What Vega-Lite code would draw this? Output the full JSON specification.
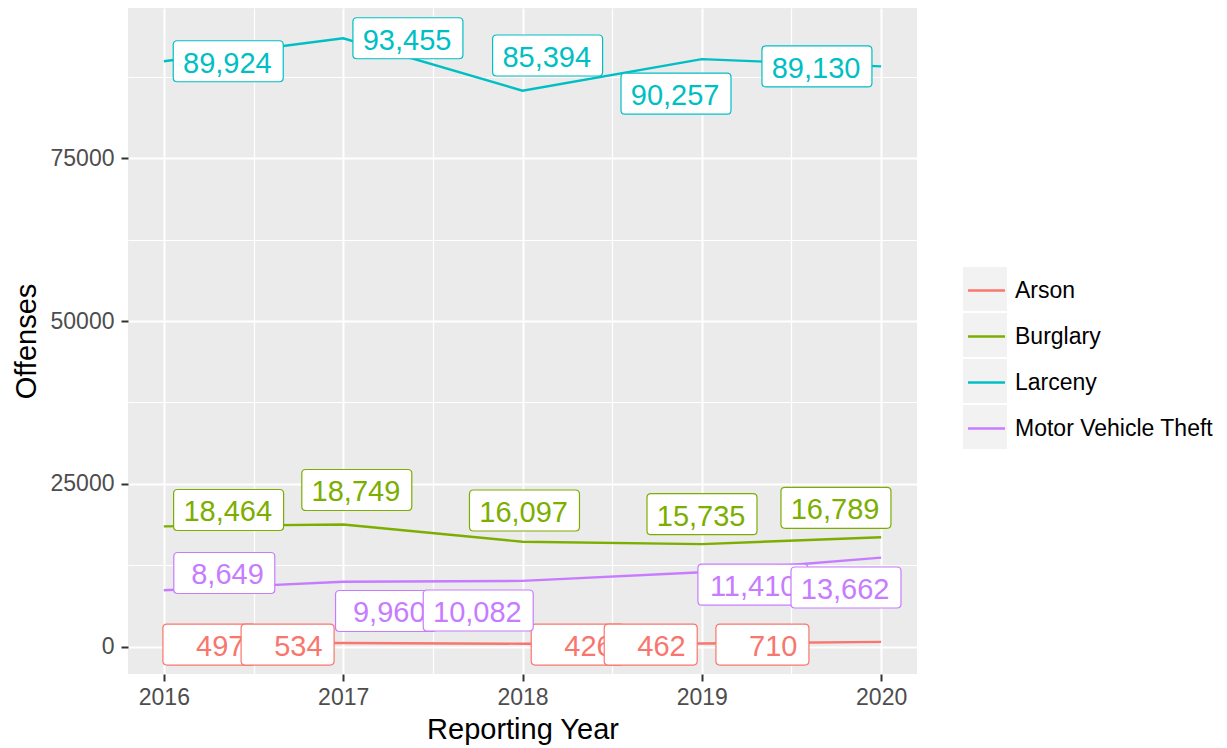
{
  "$schema": "https://vega.github.io/schema/vega-lite/v6.json",
  "width": 789,
  "height": 666,
  "autosize": {"type": "none"},
  "padding": {"left": 128, "top": 8, "right": 310, "bottom": 74},
  "background": "white",
  "config": {
    "font": "Liberation Sans",
    "view": {"fill": "#EBEBEB", "stroke": null},
    "axis": {
      "domain": false,
      "gridColor": "white",
      "tickColor": "#333333",
      "tickSize": 7,
      "tickWidth": 2,
      "labelFont": "Liberation Sans",
      "labelFontSize": 23,
      "labelColor": "#4D4D4D",
      "titleFont": "Liberation Sans",
      "titleFontSize": 29,
      "titleFontWeight": "normal",
      "titleColor": "black"
    }
  },
  "data": {
    "values": [
      {"crime": "Arson", "year": 2016, "value": 497, "labelYear": 2016.254, "labelValue": 300},
      {"crime": "Arson", "year": 2017, "value": 534, "labelYear": 2016.690, "labelValue": 300},
      {"crime": "Arson", "year": 2018, "value": 426, "labelYear": 2018.308, "labelValue": 300},
      {"crime": "Arson", "year": 2019, "value": 462, "labelYear": 2018.715, "labelValue": 300},
      {"crime": "Arson", "year": 2020, "value": 710, "labelYear": 2019.338, "labelValue": 300},
      {"crime": "Burglary", "year": 2016, "value": 18464, "labelYear": 2016.361, "labelValue": 20974},
      {"crime": "Burglary", "year": 2017, "value": 18749, "labelYear": 2017.076, "labelValue": 24047},
      {"crime": "Burglary", "year": 2018, "value": 16097, "labelYear": 2018.011, "labelValue": 20897},
      {"crime": "Burglary", "year": 2019, "value": 15735, "labelYear": 2019.001, "labelValue": 20329},
      {"crime": "Burglary", "year": 2020, "value": 16789, "labelYear": 2019.748, "labelValue": 21312},
      {"crime": "Larceny", "year": 2016, "value": 89924, "labelYear": 2016.359, "labelValue": 89924},
      {"crime": "Larceny", "year": 2017, "value": 93455, "labelYear": 2017.361, "labelValue": 93455},
      {"crime": "Larceny", "year": 2018, "value": 85394, "labelYear": 2018.140, "labelValue": 90811},
      {"crime": "Larceny", "year": 2019, "value": 90257, "labelYear": 2018.856, "labelValue": 84941},
      {"crime": "Larceny", "year": 2020, "value": 89130, "labelYear": 2019.642, "labelValue": 89130},
      {"crime": "Motor Vehicle Theft", "year": 2016, "value": 8649, "labelYear": 2016.337, "labelValue": 11294},
      {"crime": "Motor Vehicle Theft", "year": 2017, "value": 9960, "labelYear": 2017.239, "labelValue": 5455},
      {"crime": "Motor Vehicle Theft", "year": 2018, "value": 10082, "labelYear": 2017.753, "labelValue": 5532},
      {"crime": "Motor Vehicle Theft", "year": 2019, "value": 11410, "labelYear": 2019.285, "labelValue": 9496},
      {"crime": "Motor Vehicle Theft", "year": 2020, "value": 13662, "labelYear": 2019.804, "labelValue": 9066}
    ]
  },
  "transform": [
    {"calculate": "format(datum.value, ',')", "as": "label"},
    {"calculate": "datum.value >= 10000 ? 'A' : datum.value >= 1000 ? 'B' : 'C'", "as": "boxType"},
    {"calculate": "datum.crime", "as": "key"}
  ],
  "resolve": {"axis": {"x": "independent", "y": "independent"}},
  "layer": [
    {
      "mark": {"type": "point", "filled": true, "opacity": 0, "size": 4},
      "encoding": {
        "x": {
          "field": "year", "type": "quantitative",
          "scale": {"domain": [2015.8, 2020.2], "nice": false, "zero": false},
          "axis": {"orient": "bottom", "title": null, "values": [2016.5, 2017.5, 2018.5, 2019.5], "labels": false, "ticks": false, "grid": true, "gridWidth": 1.2}
        },
        "y": {
          "field": "value", "type": "quantitative",
          "scale": {"domain": [-4225, 98106], "nice": false, "zero": false},
          "axis": {"orient": "left", "title": null, "values": [12500, 37500, 62500, 87500], "labels": false, "ticks": false, "grid": true, "gridWidth": 1.2}
        },
        "color": {
          "field": "key", "type": "nominal",
          "scale": {"range": ["#F2F2F2", "#F2F2F2", "#F2F2F2", "#F2F2F2"]},
          "legend": {
            "title": null,
            "orient": "none",
            "legendX": 835,
            "legendY": 259,
            "symbolType": "M-1,-1H1V1H-1Z",
            "symbolSize": 1936,
            "symbolStrokeWidth": 0,
            "labelExpr": "''",
            "labelFontSize": 23,
            "labelOffset": 0,
            "rowPadding": 2,
            "encode": {"symbols": {"update": {"opacity": {"value": 1}, "fill": {"value": "#F2F2F2"}}}}
          }
        }
      }
    },
    {
      "mark": {"type": "line", "strokeWidth": 2.4},
      "encoding": {
        "x": {
          "field": "year", "type": "quantitative",
          "axis": {"orient": "bottom", "title": "Reporting Year", "values": [2016, 2017, 2018, 2019, 2020], "format": "d", "grid": true, "gridWidth": 2, "labelPadding": 5, "titlePadding": 6}
        },
        "y": {
          "field": "value", "type": "quantitative",
          "axis": {"orient": "left", "title": "Offenses", "values": [0, 25000, 50000, 75000], "format": "d", "grid": true, "gridWidth": 2, "labelPadding": 7, "titlePadding": 9}
        },
        "stroke": {
          "field": "crime", "type": "nominal",
          "scale": {"domain": ["Arson", "Burglary", "Larceny", "Motor Vehicle Theft"], "range": ["#F8766D", "#7CAE00", "#00BFC4", "#C77CFF"]},
          "legend": {
            "title": null,
            "orient": "none",
            "legendX": 835,
            "legendY": 259,
            "symbolType": "M-0.841,0L0.841,0",
            "symbolSize": 1936,
            "symbolStrokeWidth": 2.4,
            "labelFont": "Liberation Sans",
            "labelFontSize": 23,
            "labelColor": "black",
            "labelOffset": 5,
            "labelLimit": 400,
            "rowPadding": 10
          }
        }
      }
    },
    {
      "transform": [{"filter": "datum.year == 2016"}],
      "mark": {"type": "point", "filled": false, "fill": "white", "fillOpacity": 1, "opacity": 1, "size": 4, "strokeWidth": 1.2},
      "encoding": {
        "x": {"field": "labelYear", "type": "quantitative", "axis": null},
        "y": {"field": "labelValue", "type": "quantitative", "axis": null},
        "stroke": {"field": "crime", "type": "nominal", "legend": null},
        "shape": {"field": "boxType", "type": "nominal", "legend": null, "scale": {"domain": ["A", "B", "C"], "range": ["M-51,-20.5H51Q55,-20.5 55,-16.5V16.5Q55,20.5 51,20.5H-51Q-55,20.5 -55,16.5V-16.5Q-55,-20.5 -51,-20.5Z", "M-46.5,-20.5H46.5Q50.5,-20.5 50.5,-16.5V16.5Q50.5,20.5 46.5,20.5H-46.5Q-50.5,20.5 -50.5,16.5V-16.5Q-50.5,-20.5 -46.5,-20.5Z", "M-42.5,-20.5H42.5Q46.5,-20.5 46.5,-16.5V16.5Q46.5,20.5 42.5,20.5H-42.5Q-46.5,20.5 -46.5,16.5V-16.5Q-46.5,-20.5 -42.5,-20.5Z"]}}
      }
    },
    {
      "transform": [{"filter": "datum.year == 2016"}],
      "mark": {"type": "text", "font": "Liberation Sans", "fontSize": 29, "baseline": "alphabetic", "align": "right", "dy": 11.5, "dx": {"expr": "datum.value >= 10000 ? 43.5 : datum.value >= 1000 ? 39.5 : 35"}},
      "encoding": {
        "x": {"field": "labelYear", "type": "quantitative", "axis": null},
        "y": {"field": "labelValue", "type": "quantitative", "axis": null},
        "fill": {"field": "crime", "type": "nominal", "legend": null, "scale": {"domain": ["Arson", "Burglary", "Larceny", "Motor Vehicle Theft"], "range": ["#F8766D", "#7CAE00", "#00BFC4", "#C77CFF"]}},
        "text": {"field": "label", "type": "nominal"}
      }
    },
    {
      "transform": [{"filter": "datum.year == 2017"}],
      "mark": {"type": "point", "filled": false, "fill": "white", "fillOpacity": 1, "opacity": 1, "size": 4, "strokeWidth": 1.2},
      "encoding": {
        "x": {"field": "labelYear", "type": "quantitative", "axis": null},
        "y": {"field": "labelValue", "type": "quantitative", "axis": null},
        "stroke": {"field": "crime", "type": "nominal", "legend": null},
        "shape": {"field": "boxType", "type": "nominal", "legend": null, "scale": {"domain": ["A", "B", "C"], "range": ["M-51,-20.5H51Q55,-20.5 55,-16.5V16.5Q55,20.5 51,20.5H-51Q-55,20.5 -55,16.5V-16.5Q-55,-20.5 -51,-20.5Z", "M-46.5,-20.5H46.5Q50.5,-20.5 50.5,-16.5V16.5Q50.5,20.5 46.5,20.5H-46.5Q-50.5,20.5 -50.5,16.5V-16.5Q-50.5,-20.5 -46.5,-20.5Z", "M-42.5,-20.5H42.5Q46.5,-20.5 46.5,-16.5V16.5Q46.5,20.5 42.5,20.5H-42.5Q-46.5,20.5 -46.5,16.5V-16.5Q-46.5,-20.5 -42.5,-20.5Z"]}}
      }
    },
    {
      "transform": [{"filter": "datum.year == 2017"}],
      "mark": {"type": "text", "font": "Liberation Sans", "fontSize": 29, "baseline": "alphabetic", "align": "right", "dy": 11.5, "dx": {"expr": "datum.value >= 10000 ? 43.5 : datum.value >= 1000 ? 39.5 : 35"}},
      "encoding": {
        "x": {"field": "labelYear", "type": "quantitative", "axis": null},
        "y": {"field": "labelValue", "type": "quantitative", "axis": null},
        "fill": {"field": "crime", "type": "nominal", "legend": null},
        "text": {"field": "label", "type": "nominal"}
      }
    },
    {
      "transform": [{"filter": "datum.year == 2018"}],
      "mark": {"type": "point", "filled": false, "fill": "white", "fillOpacity": 1, "opacity": 1, "size": 4, "strokeWidth": 1.2},
      "encoding": {
        "x": {"field": "labelYear", "type": "quantitative", "axis": null},
        "y": {"field": "labelValue", "type": "quantitative", "axis": null},
        "stroke": {"field": "crime", "type": "nominal", "legend": null},
        "shape": {"field": "boxType", "type": "nominal", "legend": null, "scale": {"domain": ["A", "B", "C"], "range": ["M-51,-20.5H51Q55,-20.5 55,-16.5V16.5Q55,20.5 51,20.5H-51Q-55,20.5 -55,16.5V-16.5Q-55,-20.5 -51,-20.5Z", "M-46.5,-20.5H46.5Q50.5,-20.5 50.5,-16.5V16.5Q50.5,20.5 46.5,20.5H-46.5Q-50.5,20.5 -50.5,16.5V-16.5Q-50.5,-20.5 -46.5,-20.5Z", "M-42.5,-20.5H42.5Q46.5,-20.5 46.5,-16.5V16.5Q46.5,20.5 42.5,20.5H-42.5Q-46.5,20.5 -46.5,16.5V-16.5Q-46.5,-20.5 -42.5,-20.5Z"]}}
      }
    },
    {
      "transform": [{"filter": "datum.year == 2018"}],
      "mark": {"type": "text", "font": "Liberation Sans", "fontSize": 29, "baseline": "alphabetic", "align": "right", "dy": 11.5, "dx": {"expr": "datum.value >= 10000 ? 43.5 : datum.value >= 1000 ? 39.5 : 35"}},
      "encoding": {
        "x": {"field": "labelYear", "type": "quantitative", "axis": null},
        "y": {"field": "labelValue", "type": "quantitative", "axis": null},
        "fill": {"field": "crime", "type": "nominal", "legend": null},
        "text": {"field": "label", "type": "nominal"}
      }
    },
    {
      "transform": [{"filter": "datum.year == 2019"}],
      "mark": {"type": "point", "filled": false, "fill": "white", "fillOpacity": 1, "opacity": 1, "size": 4, "strokeWidth": 1.2},
      "encoding": {
        "x": {"field": "labelYear", "type": "quantitative", "axis": null},
        "y": {"field": "labelValue", "type": "quantitative", "axis": null},
        "stroke": {"field": "crime", "type": "nominal", "legend": null},
        "shape": {"field": "boxType", "type": "nominal", "legend": null, "scale": {"domain": ["A", "B", "C"], "range": ["M-51,-20.5H51Q55,-20.5 55,-16.5V16.5Q55,20.5 51,20.5H-51Q-55,20.5 -55,16.5V-16.5Q-55,-20.5 -51,-20.5Z", "M-46.5,-20.5H46.5Q50.5,-20.5 50.5,-16.5V16.5Q50.5,20.5 46.5,20.5H-46.5Q-50.5,20.5 -50.5,16.5V-16.5Q-50.5,-20.5 -46.5,-20.5Z", "M-42.5,-20.5H42.5Q46.5,-20.5 46.5,-16.5V16.5Q46.5,20.5 42.5,20.5H-42.5Q-46.5,20.5 -46.5,16.5V-16.5Q-46.5,-20.5 -42.5,-20.5Z"]}}
      }
    },
    {
      "transform": [{"filter": "datum.year == 2019"}],
      "mark": {"type": "text", "font": "Liberation Sans", "fontSize": 29, "baseline": "alphabetic", "align": "right", "dy": 11.5, "dx": {"expr": "datum.value >= 10000 ? 43.5 : datum.value >= 1000 ? 39.5 : 35"}},
      "encoding": {
        "x": {"field": "labelYear", "type": "quantitative", "axis": null},
        "y": {"field": "labelValue", "type": "quantitative", "axis": null},
        "fill": {"field": "crime", "type": "nominal", "legend": null},
        "text": {"field": "label", "type": "nominal"}
      }
    },
    {
      "transform": [{"filter": "datum.year == 2020"}],
      "mark": {"type": "point", "filled": false, "fill": "white", "fillOpacity": 1, "opacity": 1, "size": 4, "strokeWidth": 1.2},
      "encoding": {
        "x": {"field": "labelYear", "type": "quantitative", "axis": null},
        "y": {"field": "labelValue", "type": "quantitative", "axis": null},
        "stroke": {"field": "crime", "type": "nominal", "legend": null},
        "shape": {"field": "boxType", "type": "nominal", "legend": null, "scale": {"domain": ["A", "B", "C"], "range": ["M-51,-20.5H51Q55,-20.5 55,-16.5V16.5Q55,20.5 51,20.5H-51Q-55,20.5 -55,16.5V-16.5Q-55,-20.5 -51,-20.5Z", "M-46.5,-20.5H46.5Q50.5,-20.5 50.5,-16.5V16.5Q50.5,20.5 46.5,20.5H-46.5Q-50.5,20.5 -50.5,16.5V-16.5Q-50.5,-20.5 -46.5,-20.5Z", "M-42.5,-20.5H42.5Q46.5,-20.5 46.5,-16.5V16.5Q46.5,20.5 42.5,20.5H-42.5Q-46.5,20.5 -46.5,16.5V-16.5Q-46.5,-20.5 -42.5,-20.5Z"]}}
      }
    },
    {
      "transform": [{"filter": "datum.year == 2020"}],
      "mark": {"type": "text", "font": "Liberation Sans", "fontSize": 29, "baseline": "alphabetic", "align": "right", "dy": 11.5, "dx": {"expr": "datum.value >= 10000 ? 43.5 : datum.value >= 1000 ? 39.5 : 35"}},
      "encoding": {
        "x": {"field": "labelYear", "type": "quantitative", "axis": null},
        "y": {"field": "labelValue", "type": "quantitative", "axis": null},
        "fill": {"field": "crime", "type": "nominal", "legend": null},
        "text": {"field": "label", "type": "nominal"}
      }
    }
  ]
}
